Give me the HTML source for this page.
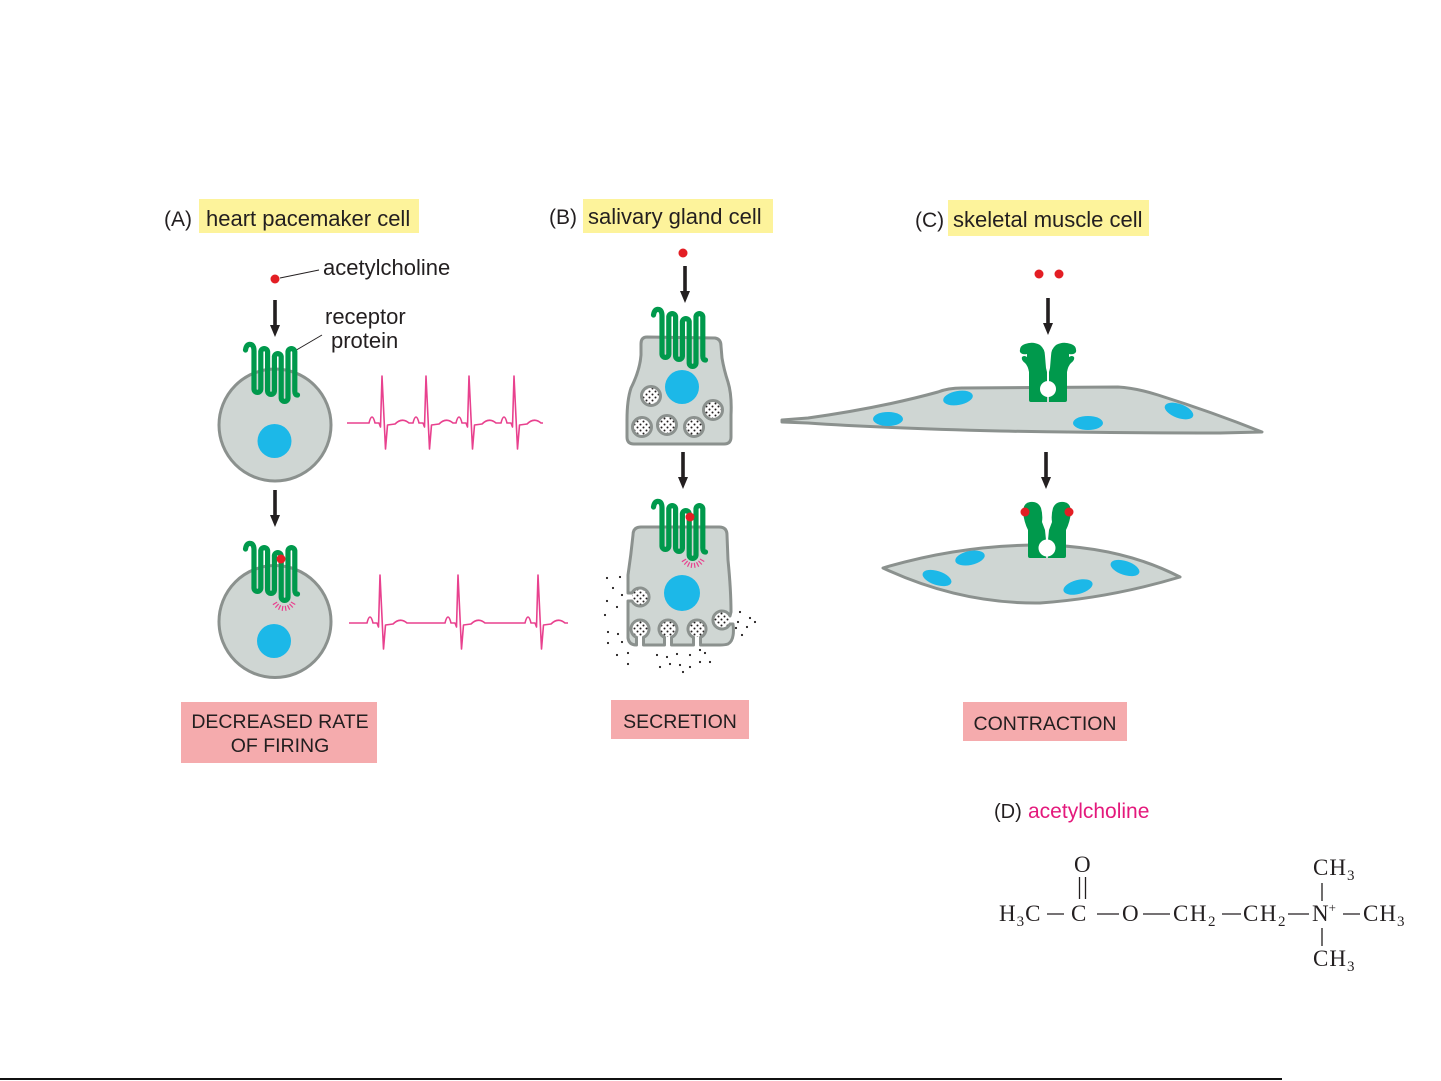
<!DOCTYPE html>
<html><head><meta charset="utf-8"><style>
html,body{margin:0;padding:0;background:#fff;}
svg{display:block;}
</style></head><body>
<svg width="1441" height="1081" viewBox="0 0 1441 1081" xmlns="http://www.w3.org/2000/svg" font-family="'Liberation Sans', sans-serif">
<defs>
<pattern id="dt" width="6" height="6" patternUnits="userSpaceOnUse"><circle cx="1.5" cy="1.5" r="1" fill="#231f20"/><circle cx="4.5" cy="4.5" r="1" fill="#231f20"/></pattern>
<path id="rec" d="M 0.5 7 Q 1.5 0.5 6 1.5 Q 9 2.5 9 8 L 9 46 A 3.4 3.4 0 0 0 15.8 46 L 15.8 9 A 3.4 3.4 0 0 1 22.6 9 L 22.6 48 A 3.4 3.4 0 0 0 29.4 48 L 29.4 14 A 3.4 3.4 0 0 1 36.2 14 L 36.2 55 A 3.4 3.4 0 0 0 43 55 L 43 9 A 3.4 3.4 0 0 1 49.8 9 L 49.8 48 Q 49.8 52 52.5 52" fill="none" stroke="#00994c" stroke-width="5.2" stroke-linecap="round" stroke-linejoin="round"/>
<g id="rays" stroke="#e8418e" stroke-width="1.2">
<line x1="6.93" y1="4" x2="11.26" y2="6.5"/><line x1="5.46" y1="5.85" x2="8.87" y2="9.51"/><line x1="3.51" y1="7.19" x2="5.7" y2="11.68"/><line x1="1.25" y1="7.9" x2="2.03" y2="12.84"/><line x1="-1.11" y1="7.92" x2="-1.81" y2="12.87"/><line x1="-3.38" y1="7.25" x2="-5.49" y2="11.78"/><line x1="-5.35" y1="5.95" x2="-8.7" y2="9.66"/><line x1="-6.86" y1="4.12" x2="-11.14" y2="6.7"/>
</g>
<g id="arrow"><rect x="-1.8" y="0" width="3.6" height="26" fill="#231f20"/><path d="M -5 25 L 5 25 L 0 37 Z" fill="#231f20"/></g>
</defs>

<!-- Headings -->
<text x="164" y="226" font-size="21" fill="#231f20">(A)</text>
<rect x="199" y="199" width="220" height="34" fill="#fdf39b"/>
<text x="206" y="226" font-size="22" fill="#231f20">heart pacemaker cell</text>

<text x="549" y="224" font-size="21" fill="#231f20">(B)</text>
<rect x="583" y="199" width="190" height="34" fill="#fdf39b"/>
<text x="588" y="224" font-size="22" fill="#231f20">salivary gland cell</text>

<text x="915" y="227" font-size="21" fill="#231f20">(C)</text>
<rect x="948" y="200" width="201" height="36" fill="#fdf39b"/>
<text x="953" y="227" font-size="22" fill="#231f20">skeletal muscle cell</text>

<!-- Panel A -->
<circle cx="275" cy="279" r="4.5" fill="#e31e24"/>
<line x1="280" y1="278" x2="319" y2="270" stroke="#231f20" stroke-width="1"/>
<text x="323" y="275" font-size="22" fill="#231f20">acetylcholine</text>
<use href="#arrow" transform="translate(275,300)"/>
<text x="325" y="324" font-size="22" fill="#231f20">receptor</text>
<text x="331" y="348" font-size="22" fill="#231f20">protein</text>
<line x1="293" y1="352" x2="322" y2="335" stroke="#231f20" stroke-width="1"/>

<circle cx="275" cy="425" r="56" fill="#cfd6d3" stroke="#8b918e" stroke-width="3"/>
<circle cx="274.5" cy="441" r="17" fill="#1cb8e8"/>
<use href="#rec" transform="translate(245,343)"/>

<path d="M 347 423 L 369 423 Q 372 411 375 423 L 379 423 L 380.5 427 L 382 376 L 385.5 449 L 387.5 425 L 395 424 Q 402 417 409 423 L 413 423 Q 416 411 419 423 L 423 423 L 424.5 427 L 426 376 L 429.5 449 L 431.5 425 L 439 424 Q 446 417 453 423 L 456 423 Q 459 411 462 423 L 466 423 L 467.5 427 L 469 376 L 472.5 449 L 474.5 425 L 482 424 Q 489 417 496 423 L 501 423 Q 504 411 507 423 L 511 423 L 512.5 427 L 514 376 L 517.5 449 L 519.5 425 L 527 424 Q 534 417 541 423 L 543 423" fill="none" stroke="#e8418e" stroke-width="1.6" stroke-linejoin="round"/>

<use href="#arrow" transform="translate(275,490)"/>

<circle cx="275" cy="621.5" r="56" fill="#cfd6d3" stroke="#8b918e" stroke-width="3"/>
<circle cx="274" cy="641" r="17" fill="#1cb8e8"/>
<use href="#rec" transform="translate(245,542)"/>
<circle cx="281" cy="559" r="4.5" fill="#e31e24"/>
<use href="#rays" transform="translate(284,598)"/>

<path d="M 349 623 L 367 623 Q 370 611 373 623 L 377 623 L 378.5 627 L 380 575 L 383.5 649 L 385.5 625 L 393 624 Q 400 617 407 623 L 445 623 Q 448 611 451 623 L 455 623 L 456.5 627 L 458 575 L 461.5 649 L 463.5 625 L 471 624 Q 478 617 485 623 L 525 623 Q 528 611 531 623 L 535 623 L 536.5 627 L 538 575 L 541.5 649 L 543.5 625 L 551 624 Q 558 617 565 623 L 568 623" fill="none" stroke="#e8418e" stroke-width="1.6" stroke-linejoin="round"/>

<rect x="181" y="702" width="196" height="61" fill="#f5abad"/>
<text x="280" y="728" font-size="19.5" fill="#231f20" text-anchor="middle">DECREASED RATE</text>
<text x="280" y="752" font-size="19.5" fill="#231f20" text-anchor="middle">OF FIRING</text>

<!-- Panel B -->
<circle cx="683" cy="253" r="4.5" fill="#e31e24"/>
<use href="#arrow" transform="translate(685,266)"/>
<path d="M 647 337 L 715 338 Q 721 339 721 346 L 722 358 Q 724 370 728 382 Q 732 395 731 415 L 731 437 Q 731 444 724 444 L 634 444 Q 627 444 627 437 L 627 420 Q 627 400 631 388 Q 640 370 641 355 L 641 344 Q 641 337 647 337 Z" fill="#cfd6d3" stroke="#8b918e" stroke-width="3"/>
<circle cx="682" cy="387" r="17" fill="#1cb8e8"/>
<g stroke="#8b918e" stroke-width="3" fill="#fff">
<circle cx="651" cy="396" r="9.5"/><circle cx="642" cy="427" r="9.5"/><circle cx="667" cy="425" r="9.5"/><circle cx="694" cy="427" r="9.5"/><circle cx="713" cy="410" r="9.5"/>
</g>
<g fill="url(#dt)">
<circle cx="651" cy="396" r="8"/><circle cx="642" cy="427" r="8"/><circle cx="667" cy="425" r="8"/><circle cx="694" cy="427" r="8"/><circle cx="713" cy="410" r="8"/>
</g>
<use href="#rec" transform="translate(653,308)"/>

<use href="#arrow" transform="translate(683,452)"/>

<g fill="url(#dt)">
<circle cx="697" cy="629" r="8"/><circle cx="668" cy="629" r="8"/><circle cx="640" cy="629" r="8"/><circle cx="722" cy="620" r="8"/><circle cx="640" cy="597" r="8"/>
</g>
<path d="M 633 535 Q 633 527 641 527 L 719 527 Q 727 527 727 535 L 728 560 Q 731 590 731 612 L 730 616 A 9 9 0 1 0 730 624 L 733 624 Q 735 640 728 644 Q 725 645 720 645 L 700.5 645 L 700.5 637.3 A 9 9 0 1 0 693.5 637.3 L 693.5 645 L 671.5 645 L 671.5 637.3 A 9 9 0 1 0 664.5 637.3 L 664.5 645 L 643.5 645 L 643.5 637.3 A 9 9 0 1 0 636.5 637.3 L 636.5 645 Q 629 645 628 638 L 628 601 L 632 601 A 9 9 0 1 0 632 593 L 628 593 L 628 575 Q 631 555 633 535 Z" fill="#cfd6d3" stroke="#8b918e" stroke-width="3" stroke-linejoin="round"/>
<circle cx="682" cy="593" r="18" fill="#1cb8e8"/>
<use href="#rec" transform="translate(653,500)"/>
<circle cx="690" cy="517" r="4.5" fill="#e31e24"/>
<use href="#rays" transform="translate(693,555)"/>
<g fill="#231f20">
<circle cx="607" cy="578" r="1.1"/><circle cx="620" cy="577" r="1.1"/><circle cx="613" cy="588" r="1.1"/><circle cx="622" cy="595" r="1.1"/><circle cx="607" cy="601" r="1.1"/><circle cx="617" cy="607" r="1.1"/><circle cx="605" cy="615" r="1.1"/><circle cx="608" cy="632" r="1.1"/><circle cx="618" cy="634" r="1.1"/><circle cx="608" cy="643" r="1.1"/><circle cx="622" cy="642" r="1.1"/><circle cx="617" cy="655" r="1.1"/><circle cx="628" cy="653" r="1.1"/><circle cx="628" cy="664" r="1.1"/><circle cx="657" cy="655" r="1.1"/><circle cx="667" cy="657" r="1.1"/><circle cx="677" cy="654" r="1.1"/><circle cx="690" cy="655" r="1.1"/><circle cx="700" cy="650" r="1.1"/><circle cx="705" cy="653" r="1.1"/><circle cx="710" cy="662" r="1.1"/><circle cx="700" cy="662" r="1.1"/><circle cx="690" cy="667" r="1.1"/><circle cx="680" cy="665" r="1.1"/><circle cx="670" cy="664" r="1.1"/><circle cx="660" cy="667" r="1.1"/><circle cx="683" cy="672" r="1.1"/><circle cx="736" cy="628" r="1.1"/><circle cx="742" cy="635" r="1.1"/><circle cx="750" cy="618" r="1.1"/><circle cx="755" cy="622" r="1.1"/><circle cx="747" cy="627" r="1.1"/><circle cx="740" cy="612" r="1.1"/><circle cx="738" cy="622" r="1.1"/>
</g>

<rect x="611" y="700" width="138" height="39" fill="#f5abad"/>
<text x="680" y="728" font-size="19.5" fill="#231f20" text-anchor="middle">SECRETION</text>

<!-- Panel C -->
<circle cx="1039" cy="274" r="4.5" fill="#e31e24"/>
<circle cx="1059" cy="274" r="4.5" fill="#e31e24"/>
<use href="#arrow" transform="translate(1048,298)"/>
<path d="M 782 420 L 808 418 Q 880 408 938 392 Q 948 388 962 388 L 1118 387 Q 1136 388 1158 395 Q 1212 412 1262 432 L 1220 433 Q 1100 433 1000 431 Q 880 428 808 423 L 782 422 Z" fill="#cfd6d3" stroke="#8b918e" stroke-width="3" stroke-linejoin="round"/>
<g fill="#1cb8e8">
<ellipse cx="958" cy="398" rx="15" ry="7" transform="rotate(-10 958 398)"/>
<ellipse cx="888" cy="419" rx="15" ry="7"/>
<ellipse cx="1088" cy="423" rx="15" ry="7"/>
<ellipse cx="1179" cy="411" rx="15" ry="7" transform="rotate(20 1179 411)"/>
</g>
<g fill="#00994c">
<path id="chL" d="M 1047 402 L 1031 402 Q 1029 402 1029 400 L 1029 372 Q 1028 366 1025 363 Q 1021 360 1022 357 Q 1024 355 1027 357 L 1027 354 Q 1022 355 1020 352 Q 1019 346 1025 344 Q 1033 341 1040 345 Q 1045 349 1045 356 L 1046 368 L 1047 372 Z"/>
<use href="#chL" transform="translate(2096,0) scale(-1,1)"/>
</g>
<circle cx="1048" cy="389" r="8" fill="#fff"/>

<use href="#arrow" transform="translate(1046,452)"/>
<path d="M 883 568 Q 960 545 1040 545 Q 1120 546 1180 577 Q 1110 598 1040 603 Q 960 604 883 568 Z" fill="#cfd6d3" stroke="#8b918e" stroke-width="3" stroke-linejoin="round"/>
<g fill="#1cb8e8">
<ellipse cx="970" cy="558" rx="15" ry="7" transform="rotate(-12 970 558)"/>
<ellipse cx="937" cy="578" rx="15" ry="7" transform="rotate(18 937 578)"/>
<ellipse cx="1125" cy="568" rx="15" ry="7" transform="rotate(18 1125 568)"/>
<ellipse cx="1078" cy="587" rx="15" ry="7" transform="rotate(-15 1078 587)"/>
</g>
<g fill="#00994c">
<path id="coL" d="M 1046 558 L 1030 558 Q 1028 558 1028 556 L 1028 530 Q 1024 522 1023 512 Q 1023 503 1030 502 Q 1038 501 1041 508 Q 1043 515 1042 522 L 1045 530 L 1046 540 Z"/>
<use href="#coL" transform="translate(2094,0) scale(-1,1)"/>
</g>
<circle cx="1047" cy="548" r="8.5" fill="#fff"/>
<circle cx="1025" cy="512" r="4.5" fill="#e31e24"/>
<circle cx="1069" cy="512" r="4.5" fill="#e31e24"/>

<rect x="963" y="702" width="164" height="39" fill="#f5abad"/>
<text x="1045" y="730" font-size="19.5" fill="#231f20" text-anchor="middle">CONTRACTION</text>

<!-- Panel D -->
<text x="994" y="818" font-size="20" fill="#231f20">(D)</text>
<text x="1028" y="818" font-size="21" fill="#e4197c">acetylcholine</text>

<g font-family="'Liberation Serif', serif" font-size="23" fill="#231f20">
<text x="1074" y="872">O</text>
<text x="1313" y="875" letter-spacing="1">CH<tspan font-size="15" dy="5">3</tspan></text>
<text x="999" y="921" letter-spacing="1">H<tspan font-size="15" dy="5">3</tspan><tspan dy="-5">C</tspan></text>
<text x="1071" y="921">C</text>
<text x="1122" y="921">O</text>
<text x="1173" y="921" letter-spacing="1.5">CH<tspan font-size="15" dy="5">2</tspan></text>
<text x="1243" y="921" letter-spacing="1.5">CH<tspan font-size="15" dy="5">2</tspan></text>
<text x="1312" y="921">N<tspan font-size="13" dy="-9">+</tspan></text>
<text x="1363" y="921" letter-spacing="1">CH<tspan font-size="15" dy="5">3</tspan></text>
<text x="1313" y="966" letter-spacing="1">CH<tspan font-size="15" dy="5">3</tspan></text>
</g>
<g stroke="#231f20" stroke-width="1.3">
<line x1="1079.5" y1="877" x2="1079.5" y2="899"/>
<line x1="1085.5" y1="877" x2="1085.5" y2="899"/>
<line x1="1047" y1="914" x2="1064" y2="914"/>
<line x1="1097" y1="914" x2="1119" y2="914"/>
<line x1="1143" y1="914" x2="1170" y2="914"/>
<line x1="1222" y1="914" x2="1241" y2="914"/>
<line x1="1288" y1="914" x2="1309" y2="914"/>
<line x1="1343" y1="914" x2="1360" y2="914"/>
<line x1="1322" y1="883" x2="1322" y2="901"/>
<line x1="1322" y1="928" x2="1322" y2="946"/>
</g>

<rect x="0" y="1078" width="1282" height="2" fill="#111"/>
</svg>
</body></html>
